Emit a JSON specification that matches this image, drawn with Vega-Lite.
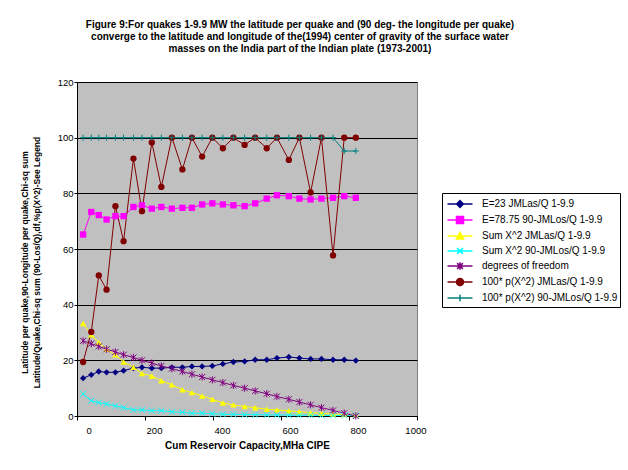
{
  "$schema": "https://vega.github.io/schema/vega-lite/v6.json",
  "width": 340,
  "height": 334,
  "autosize": {"type": "none"},
  "padding": {"left": 77, "top": 82, "right": 211, "bottom": 54},
  "background": "white",
  "title": {
    "text": [
      "Figure 9:For quakes 1-9.9 MW the latitude per quake and (90 deg- the longitude per quake)",
      "converge to the latitude and longitude of the(1994) center of gravity of the surface water",
      "masses on the India part of the Indian plate (1973-2001)"
    ],
    "font": "Liberation Sans",
    "fontSize": 10,
    "fontWeight": "bold",
    "color": "black",
    "anchor": "middle",
    "dx": 53,
    "offset": 23,
    "lineHeight": 12
  },
  "data": {
    "values": [
      {"x": 18, "s": "e23", "y": 13.6}, {"x": 42, "s": "e23", "y": 14.8}, {"x": 64, "s": "e23", "y": 16.0}, {"x": 87, "s": "e23", "y": 15.7},
      {"x": 113, "s": "e23", "y": 15.7}, {"x": 137, "s": "e23", "y": 16.3}, {"x": 166, "s": "e23", "y": 17.2}, {"x": 191, "s": "e23", "y": 17.5},
      {"x": 220, "s": "e23", "y": 17.2}, {"x": 248, "s": "e23", "y": 17.2}, {"x": 279, "s": "e23", "y": 17.5}, {"x": 310, "s": "e23", "y": 17.5},
      {"x": 338, "s": "e23", "y": 17.8}, {"x": 368, "s": "e23", "y": 17.8}, {"x": 398, "s": "e23", "y": 18.0}, {"x": 429, "s": "e23", "y": 18.7},
      {"x": 460, "s": "e23", "y": 19.4}, {"x": 493, "s": "e23", "y": 19.6}, {"x": 524, "s": "e23", "y": 20.2}, {"x": 558, "s": "e23", "y": 20.2},
      {"x": 588, "s": "e23", "y": 20.8}, {"x": 623, "s": "e23", "y": 21.2}, {"x": 654, "s": "e23", "y": 20.8}, {"x": 687, "s": "e23", "y": 20.5},
      {"x": 719, "s": "e23", "y": 20.5}, {"x": 753, "s": "e23", "y": 20.2}, {"x": 786, "s": "e23", "y": 20.2}, {"x": 820, "s": "e23", "y": 19.9},

      {"x": 18, "s": "e7875", "y": 65.2}, {"x": 42, "s": "e7875", "y": 73.3}, {"x": 64, "s": "e7875", "y": 72.2}, {"x": 87, "s": "e7875", "y": 70.6},
      {"x": 113, "s": "e7875", "y": 71.8}, {"x": 137, "s": "e7875", "y": 71.8}, {"x": 166, "s": "e7875", "y": 75.1}, {"x": 191, "s": "e7875", "y": 75.7},
      {"x": 220, "s": "e7875", "y": 74.5}, {"x": 248, "s": "e7875", "y": 75.1}, {"x": 279, "s": "e7875", "y": 74.5}, {"x": 310, "s": "e7875", "y": 74.8},
      {"x": 338, "s": "e7875", "y": 74.8}, {"x": 368, "s": "e7875", "y": 76.0}, {"x": 398, "s": "e7875", "y": 76.4}, {"x": 429, "s": "e7875", "y": 76.0},
      {"x": 460, "s": "e7875", "y": 75.7}, {"x": 493, "s": "e7875", "y": 75.4}, {"x": 524, "s": "e7875", "y": 76.4}, {"x": 558, "s": "e7875", "y": 78.1},
      {"x": 588, "s": "e7875", "y": 79.3}, {"x": 623, "s": "e7875", "y": 79.0}, {"x": 654, "s": "e7875", "y": 78.1}, {"x": 687, "s": "e7875", "y": 77.8},
      {"x": 719, "s": "e7875", "y": 78.1}, {"x": 753, "s": "e7875", "y": 78.4}, {"x": 786, "s": "e7875", "y": 79.0}, {"x": 820, "s": "e7875", "y": 78.4},

      {"x": 18, "s": "sx2las", "y": 33.2}, {"x": 42, "s": "sx2las", "y": 29.2}, {"x": 64, "s": "sx2las", "y": 26.4}, {"x": 87, "s": "sx2las", "y": 24.0},
      {"x": 113, "s": "sx2las", "y": 22.0}, {"x": 137, "s": "sx2las", "y": 19.4}, {"x": 166, "s": "sx2las", "y": 17.5}, {"x": 191, "s": "sx2las", "y": 15.3},
      {"x": 220, "s": "sx2las", "y": 14.4}, {"x": 248, "s": "sx2las", "y": 12.7}, {"x": 279, "s": "sx2las", "y": 11.2}, {"x": 310, "s": "sx2las", "y": 9.4},
      {"x": 338, "s": "sx2las", "y": 8.4}, {"x": 368, "s": "sx2las", "y": 7.2}, {"x": 398, "s": "sx2las", "y": 6.0}, {"x": 429, "s": "sx2las", "y": 4.7},
      {"x": 460, "s": "sx2las", "y": 4.0}, {"x": 493, "s": "sx2las", "y": 3.4}, {"x": 524, "s": "sx2las", "y": 3.0}, {"x": 558, "s": "sx2las", "y": 2.4},
      {"x": 588, "s": "sx2las", "y": 2.2}, {"x": 623, "s": "sx2las", "y": 1.9}, {"x": 654, "s": "sx2las", "y": 1.5}, {"x": 687, "s": "sx2las", "y": 1.2},
      {"x": 719, "s": "sx2las", "y": 1.0}, {"x": 753, "s": "sx2las", "y": 0.7}, {"x": 786, "s": "sx2las", "y": 0.5}, {"x": 820, "s": "sx2las", "y": 0.3},

      {"x": 18, "s": "sx2los", "y": 7.9}, {"x": 42, "s": "sx2los", "y": 5.5}, {"x": 64, "s": "sx2los", "y": 4.8}, {"x": 87, "s": "sx2los", "y": 4.3},
      {"x": 113, "s": "sx2los", "y": 3.6}, {"x": 137, "s": "sx2los", "y": 3.0}, {"x": 166, "s": "sx2los", "y": 2.2}, {"x": 191, "s": "sx2los", "y": 2.2},
      {"x": 220, "s": "sx2los", "y": 1.9}, {"x": 248, "s": "sx2los", "y": 1.9}, {"x": 279, "s": "sx2los", "y": 1.5}, {"x": 310, "s": "sx2los", "y": 1.3},
      {"x": 338, "s": "sx2los", "y": 1.0}, {"x": 368, "s": "sx2los", "y": 1.0}, {"x": 398, "s": "sx2los", "y": 0.8}, {"x": 429, "s": "sx2los", "y": 0.6},
      {"x": 460, "s": "sx2los", "y": 0.6}, {"x": 493, "s": "sx2los", "y": 0.5}, {"x": 524, "s": "sx2los", "y": 0.5}, {"x": 558, "s": "sx2los", "y": 0.4},
      {"x": 588, "s": "sx2los", "y": 0.4}, {"x": 623, "s": "sx2los", "y": 0.3}, {"x": 654, "s": "sx2los", "y": 0.3}, {"x": 687, "s": "sx2los", "y": 0.3},
      {"x": 719, "s": "sx2los", "y": 0.2}, {"x": 753, "s": "sx2los", "y": 0.2}, {"x": 786, "s": "sx2los", "y": 0.2}, {"x": 820, "s": "sx2los", "y": 0.2},

      {"x": 18, "s": "dof", "y": 27}, {"x": 42, "s": "dof", "y": 26}, {"x": 64, "s": "dof", "y": 25}, {"x": 87, "s": "dof", "y": 24},
      {"x": 113, "s": "dof", "y": 23}, {"x": 137, "s": "dof", "y": 22}, {"x": 166, "s": "dof", "y": 21}, {"x": 191, "s": "dof", "y": 20},
      {"x": 220, "s": "dof", "y": 19}, {"x": 248, "s": "dof", "y": 18}, {"x": 279, "s": "dof", "y": 17}, {"x": 310, "s": "dof", "y": 16},
      {"x": 338, "s": "dof", "y": 15}, {"x": 368, "s": "dof", "y": 14}, {"x": 398, "s": "dof", "y": 13}, {"x": 429, "s": "dof", "y": 12},
      {"x": 460, "s": "dof", "y": 11}, {"x": 493, "s": "dof", "y": 10}, {"x": 524, "s": "dof", "y": 9}, {"x": 558, "s": "dof", "y": 8},
      {"x": 588, "s": "dof", "y": 7}, {"x": 623, "s": "dof", "y": 6}, {"x": 654, "s": "dof", "y": 5}, {"x": 687, "s": "dof", "y": 4},
      {"x": 719, "s": "dof", "y": 3}, {"x": 753, "s": "dof", "y": 2}, {"x": 786, "s": "dof", "y": 1}, {"x": 820, "s": "dof", "y": 0},

      {"x": 18, "s": "plas", "y": 19.4}, {"x": 42, "s": "plas", "y": 30.2}, {"x": 64, "s": "plas", "y": 50.5}, {"x": 87, "s": "plas", "y": 45.4},
      {"x": 113, "s": "plas", "y": 75.4}, {"x": 137, "s": "plas", "y": 62.8}, {"x": 166, "s": "plas", "y": 92.5}, {"x": 191, "s": "plas", "y": 73.6},
      {"x": 220, "s": "plas", "y": 98.3}, {"x": 248, "s": "plas", "y": 82.3}, {"x": 279, "s": "plas", "y": 100}, {"x": 310, "s": "plas", "y": 88.6},
      {"x": 338, "s": "plas", "y": 100}, {"x": 368, "s": "plas", "y": 93.2}, {"x": 398, "s": "plas", "y": 100}, {"x": 429, "s": "plas", "y": 96.2},
      {"x": 460, "s": "plas", "y": 100}, {"x": 493, "s": "plas", "y": 97.4}, {"x": 524, "s": "plas", "y": 100}, {"x": 558, "s": "plas", "y": 96.2},
      {"x": 588, "s": "plas", "y": 100}, {"x": 623, "s": "plas", "y": 92.0}, {"x": 654, "s": "plas", "y": 100}, {"x": 687, "s": "plas", "y": 80.3},
      {"x": 719, "s": "plas", "y": 100}, {"x": 753, "s": "plas", "y": 57.7}, {"x": 786, "s": "plas", "y": 100}, {"x": 820, "s": "plas", "y": 100},

      {"x": 18, "s": "plos", "y": 100}, {"x": 42, "s": "plos", "y": 100}, {"x": 64, "s": "plos", "y": 100}, {"x": 87, "s": "plos", "y": 100},
      {"x": 113, "s": "plos", "y": 100}, {"x": 137, "s": "plos", "y": 100}, {"x": 166, "s": "plos", "y": 100}, {"x": 191, "s": "plos", "y": 100},
      {"x": 220, "s": "plos", "y": 100}, {"x": 248, "s": "plos", "y": 100}, {"x": 279, "s": "plos", "y": 100}, {"x": 310, "s": "plos", "y": 100},
      {"x": 338, "s": "plos", "y": 100}, {"x": 368, "s": "plos", "y": 100}, {"x": 398, "s": "plos", "y": 100}, {"x": 429, "s": "plos", "y": 100},
      {"x": 460, "s": "plos", "y": 100}, {"x": 493, "s": "plos", "y": 100}, {"x": 524, "s": "plos", "y": 100}, {"x": 558, "s": "plos", "y": 100},
      {"x": 588, "s": "plos", "y": 100}, {"x": 623, "s": "plos", "y": 100}, {"x": 654, "s": "plos", "y": 100}, {"x": 687, "s": "plos", "y": 100},
      {"x": 719, "s": "plos", "y": 100}, {"x": 753, "s": "plos", "y": 100}, {"x": 786, "s": "plos", "y": 95.2}, {"x": 820, "s": "plos", "y": 95.2}
    ]
  },
  "encoding": {
    "x": {
      "field": "x",
      "type": "quantitative",
      "scale": {"domain": [0, 1000], "nice": false, "zero": false},
      "axis": {
        "title": "Cum Reservoir Capacity,MHa CIPE",
        "values": [0, 200, 400, 600, 800, 1000],
        "format": "d",
        "grid": false,
        "labelOffset": 9,
        "tickSize": 4,
        "labelPadding": 5,
        "titlePadding": 6,
        "titleFontSize": 10
      }
    },
    "y": {
      "field": "y",
      "type": "quantitative",
      "scale": {"domain": [0, 120], "nice": false},
      "axis": {
        "title": [
          "Latitude per quake,90-Longitude per quake,Chi-sq sum",
          "Latitude/Quake,Chi-sq sum (90-Los/Q),df,%p(X^2)-See Legend"
        ],
        "values": [0, 20, 40, 60, 80, 100, 120],
        "grid": true,
        "tickSize": 3,
        "labelPadding": 1,
        "titleX": -48,
        "titleY": 180,
        "titleFontSize": 8.5,
        "titleLineHeight": 12
      }
    }
  },
  "layer": [
    {
      "mark": {"type": "line", "strokeWidth": 1},
      "encoding": {
        "color": {
          "field": "s",
          "type": "nominal",
          "legend": null,
          "scale": {
            "domain": ["e23", "e7875", "sx2las", "sx2los", "dof", "plas", "plos"],
            "range": ["#000080", "#FF00FF", "#FFFF00", "#00FFFF", "#800080", "#800000", "#008080"]
          }
        }
      }
    },
    {
      "transform": [{"filter": {"field": "s", "oneOf": ["e23", "e7875", "sx2las", "plas"]}}],
      "mark": {"type": "point", "filled": true, "size": 40, "opacity": 1},
      "encoding": {
        "color": {
          "field": "s",
          "type": "nominal",
          "legend": null,
          "scale": {
            "domain": ["e23", "e7875", "sx2las", "sx2los", "dof", "plas", "plos"],
            "range": ["#000080", "#FF00FF", "#FFFF00", "#00FFFF", "#800080", "#800000", "#008080"]
          }
        },
        "shape": {
          "field": "s",
          "type": "nominal",
          "legend": null,
          "scale": {
            "domain": ["e23", "e7875", "sx2las", "sx2los", "dof", "plas", "plos"],
            "range": ["diamond", "square", "triangle-up", "M-1,-1L1,1M-1,1L1,-1", "M-1,-1L1,1M-1,1L1,-1M0,-1.2L0,1.2", "circle", "M-1,0L1,0M0,-1L0,1"]
          }
        }
      }
    },
    {
      "transform": [{"filter": {"field": "s", "oneOf": ["sx2los", "dof", "plos"]}}],
      "mark": {"type": "point", "filled": false, "size": 36, "strokeWidth": 1, "opacity": 1},
      "encoding": {
        "color": {
          "field": "s",
          "type": "nominal",
          "legend": null,
          "scale": {
            "domain": ["e23", "e7875", "sx2las", "sx2los", "dof", "plas", "plos"],
            "range": ["#000080", "#FF00FF", "#FFFF00", "#00FFFF", "#800080", "#800000", "#008080"]
          }
        },
        "shape": {
          "field": "s",
          "type": "nominal",
          "legend": null,
          "scale": {
            "domain": ["e23", "e7875", "sx2las", "sx2los", "dof", "plas", "plos"],
            "range": ["diamond", "square", "triangle-up", "M-1,-1L1,1M-1,1L1,-1", "M-1,-1L1,1M-1,1L1,-1M0,-1.2L0,1.2", "circle", "M-1,0L1,0M0,-1L0,1"]
          }
        }
      }
    },
    {
      "transform": [{"filter": "false"}],
      "mark": {"type": "point", "filled": true, "strokeWidth": 1.5, "opacity": 1},
      "encoding": {
        "fill": {
          "field": "s",
          "type": "nominal",
          "scale": {
            "domain": ["e23", "e7875", "sx2las", "sx2los", "dof", "plas", "plos"],
            "range": ["#000080", "#FF00FF", "#FFFF00", "#00FFFF", "#800080", "#800000", "#008080"]
          },
          "legend": {
            "title": null, "orient": "none", "legendX": 365, "legendY": 111,
            "symbolSize": 256, "symbolOffset": 7, "symbolStrokeWidth": 1.5, "symbolOpacity": 1,
            "labelOffset": 13, "labelFontSize": 10, "labelColor": "black", "labelLimit": 300,
            "padding": 2, "rowPadding": 0, "strokeColor": "#000000", "fillColor": "white",
            "labelExpr": "{'e23': 'E=23 JMLas/Q 1-9.9', 'e7875': 'E=78.75 90-JMLos/Q 1-9.9', 'sx2las': 'Sum X^2 JMLas/Q 1-9.9', 'sx2los': 'Sum X^2 90-JMLos/Q 1-9.9', 'dof': 'degrees of freedom', 'plas': '100* p(X^2) JMLas/Q 1-9.9', 'plos': '100* p(X^2) 90-JMLos/Q 1-9.9'}[datum.value]"
          }
        },
        "stroke": {
          "field": "s",
          "type": "nominal",
          "scale": {
            "domain": ["e23", "e7875", "sx2las", "sx2los", "dof", "plas", "plos"],
            "range": ["#000080", "#FF00FF", "#FFFF00", "#00FFFF", "#800080", "#800000", "#008080"]
          },
          "legend": {
            "title": null, "orient": "none", "legendX": 365, "legendY": 111,
            "symbolSize": 256, "symbolOffset": 7, "symbolStrokeWidth": 1.5, "symbolOpacity": 1,
            "labelOffset": 13, "labelFontSize": 10, "labelColor": "black", "labelLimit": 300,
            "padding": 2, "rowPadding": 0, "strokeColor": "#000000", "fillColor": "white",
            "labelExpr": "{'e23': 'E=23 JMLas/Q 1-9.9', 'e7875': 'E=78.75 90-JMLos/Q 1-9.9', 'sx2las': 'Sum X^2 JMLas/Q 1-9.9', 'sx2los': 'Sum X^2 90-JMLos/Q 1-9.9', 'dof': 'degrees of freedom', 'plas': '100* p(X^2) JMLas/Q 1-9.9', 'plos': '100* p(X^2) 90-JMLos/Q 1-9.9'}[datum.value]"
          }
        },
        "shape": {
          "field": "s",
          "type": "nominal",
          "scale": {
            "domain": ["e23", "e7875", "sx2las", "sx2los", "dof", "plas", "plos"],
            "range": [
              "M-1.56,0L1.56,0M0,-0.42L0.42,0L0,0.42L-0.42,0Z",
              "M-1.56,0L1.56,0M-0.44,-0.44L0.44,-0.44L0.44,0.44L-0.44,0.44Z",
              "M-1.56,0L1.56,0M0,-0.46L0.46,0.36L-0.46,0.36Z",
              "M-1.56,0L1.56,0M-0.36,-0.36L0.36,0.36M-0.36,0.36L0.36,-0.36",
              "M-1.56,0L1.56,0M-0.36,-0.36L0.36,0.36M-0.36,0.36L0.36,-0.36M0,-0.46L0,0.46",
              "M-1.56,0L1.56,0M-0.44,0A0.44,0.44,0,1,0,0.44,0A0.44,0.44,0,1,0,-0.44,0Z",
              "M-1.56,0L1.56,0M0,-0.42L0,0.42"
            ]
          },
          "legend": {
            "title": null, "orient": "none", "legendX": 365, "legendY": 111,
            "symbolSize": 256, "symbolOffset": 7, "symbolStrokeWidth": 1.5, "symbolOpacity": 1,
            "labelOffset": 13, "labelFontSize": 10, "labelColor": "black", "labelLimit": 300,
            "padding": 2, "rowPadding": 0, "strokeColor": "#000000", "fillColor": "white",
            "labelExpr": "{'e23': 'E=23 JMLas/Q 1-9.9', 'e7875': 'E=78.75 90-JMLos/Q 1-9.9', 'sx2las': 'Sum X^2 JMLas/Q 1-9.9', 'sx2los': 'Sum X^2 90-JMLos/Q 1-9.9', 'dof': 'degrees of freedom', 'plas': '100* p(X^2) JMLas/Q 1-9.9', 'plos': '100* p(X^2) 90-JMLos/Q 1-9.9'}[datum.value]"
          }
        }
      }
    }
  ],
  "resolve": {
    "scale": {"color": "independent", "shape": "independent", "fill": "independent", "stroke": "independent"}
  },
  "config": {
    "font": "Liberation Sans",
    "view": {"fill": "#C0C0C0", "stroke": "#808080", "strokeWidth": 1},
    "axis": {
      "labelFont": "Liberation Sans",
      "labelFontSize": 9.5,
      "labelColor": "black",
      "titleFont": "Liberation Sans",
      "titleFontSize": 9,
      "titleFontWeight": "bold",
      "titleColor": "black",
      "domainColor": "black",
      "tickColor": "black",
      "gridColor": "black",
      "gridOpacity": 1,
      "gridWidth": 1
    },
    "legend": {"labelFont": "Liberation Sans"}
  }
}
